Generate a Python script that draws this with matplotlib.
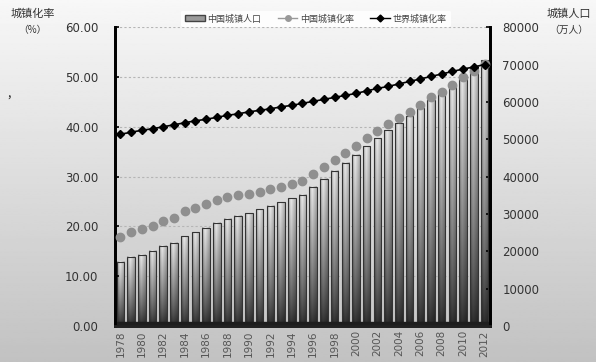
import matplotlib.pyplot as plt
import numpy as np
from matplotlib.patches import Patch
from matplotlib.lines import Line2D

plt.rcParams['font.family'] = ['Noto Sans CJK SC', 'DejaVu Sans']

years = list(range(1978, 2013))
urban_pop = [17245, 18495, 19140, 20171, 21480, 22274, 24017, 25094, 26366, 27674,
             28661, 29540, 30195, 31203, 32175, 33173, 34169, 35174, 37304, 39449,
             41608, 43748, 45906, 48064, 50212, 52376, 54283, 56212, 58288, 60633,
             62403, 64512, 66978, 69079, 71182]
china_rate = [17.92, 18.96, 19.39, 20.16, 21.13, 21.62, 23.01, 23.71, 24.52, 25.32,
              25.81, 26.21, 26.41, 26.94, 27.46, 27.99, 28.51, 29.04, 30.48, 31.91,
              33.35, 34.78, 36.22, 37.66, 39.09, 40.53, 41.76, 42.99, 44.34, 45.89,
              46.99, 48.34, 49.95, 51.27, 52.57]
world_rate = [38.5, 38.9, 39.3, 39.6, 40.0, 40.4, 40.8, 41.2, 41.5, 41.9,
              42.3, 42.6, 43.0, 43.3, 43.6, 44.0, 44.3, 44.7, 45.1, 45.5,
              45.9, 46.3, 46.7, 47.2, 47.7, 48.1, 48.6, 49.1, 49.6, 50.1,
              50.6, 51.1, 51.6, 52.0, 52.5]
left_ticks = [0, 10, 20, 30, 40, 50, 60]
right_ticks = [0, 10000, 20000, 30000, 40000, 50000, 60000, 70000, 80000]

fig = plt.figure(figsize=(5.96, 3.62), dpi=100)

# grey background fading from white at the top
bg = fig.add_axes([0, 0, 1, 1], zorder=-10)
grad = np.linspace(0.97, 0.76, 200).reshape(-1, 1)
bg.imshow(grad, cmap='gray', vmin=0, vmax=1, aspect='auto', extent=[0, 1, 0, 1])
bg.set_axis_off()

ax = fig.add_axes([0.193, 0.0994, 0.629, 0.8256])
ax2 = ax.twinx()
ax.set_zorder(2)
ax2.set_zorder(1)
ax.patch.set_visible(False)
ax2.patch.set_visible(False)

x = np.arange(len(years))
w = 0.7

ax.set_ylim(0, 60)
ax2.set_ylim(0, 80000)

# dashed grid at the left-axis ticks, kept behind the bars
scale = 80000 / 60
for t in left_ticks[1:]:
    ax2.axhline(t * scale, color='#b5b5b5', linestyle=(0, (2, 2)), linewidth=0.8, zorder=0)

# bars on the right axis, shaded with a vertical/horizontal gradient
vert = (np.linspace(0, 1, 100) ** 0.8 * 0.7 + 0.15).reshape(-1, 1)
horiz = np.concatenate([np.linspace(0.75, 1.08, 12), np.linspace(1.08, 0.8, 18)]).reshape(1, -1)
shade = np.clip(vert * horiz, 0, 1)
for xi, v in zip(x, urban_pop):
    ax2.imshow(shade[::-1], cmap='gray', vmin=0, vmax=1, aspect='auto',
               extent=[xi - w / 2, xi + w / 2, 0, v], zorder=1, interpolation='bilinear')
ax2.bar(x, urban_pop, width=w, facecolor='none', edgecolor='#333333', linewidth=0.8, zorder=2)
ax2.axhspan(0, 1200, color='#1e1e1e', zorder=3)

ax.plot(x, china_rate, linewidth=0, marker='o', markersize=6,
        markerfacecolor='#8f8f8f', markeredgecolor='#8f8f8f', zorder=4)
ax.plot(x, world_rate, color='black', linewidth=1.2, marker='D', markersize=4.3, zorder=5)

ax.set_xlim(-0.5, len(years) - 0.5)
ax2.set_xlim(-0.5, len(years) - 0.5)
ax.set_ylim(0, 60)
ax2.set_ylim(0, 80000)

ax.set_yticks(left_ticks)
ax.set_yticklabels(['%.2f' % t for t in left_ticks], fontsize=8.5, color='#333333', family='DejaVu Sans')
ax2.set_yticks(right_ticks)
ax2.set_yticklabels([str(t) for t in right_ticks], fontsize=8.5, color='#333333', family='DejaVu Sans')

ax.set_xticks(x[::2])
ax.set_xticklabels([str(y) for y in years[::2]], rotation=90, fontsize=7.5,
                   color='#555555', family='DejaVu Sans')
ax.tick_params(axis='x', length=0, pad=3)
ax.tick_params(axis='y', length=3, width=1.2, direction='in', pad=12)
ax2.tick_params(axis='y', length=3, width=1.2, direction='in', pad=9)
ax2.tick_params(axis='x', length=0)

for a in (ax, ax2):
    a.spines['top'].set_visible(False)
    a.spines['left'].set_linewidth(2)
    a.spines['right'].set_linewidth(2)
    a.spines['bottom'].set_linewidth(2)
    a.spines['bottom'].set_color('#222222')

handles = [Patch(facecolor='#9a9a9a', edgecolor='#444444'),
           Line2D([], [], color='#999999', marker='o', markersize=4, linewidth=1),
           Line2D([], [], color='black', marker='D', markersize=3.5, linewidth=1)]
fig.legend(handles, ['中国城镇人口', '中国城镇化率', '世界城镇化率'], loc='center',
           bbox_to_anchor=(0.53, 0.948), ncol=3, fontsize=6.5, frameon=True,
           facecolor='white', edgecolor='none', framealpha=0.85, handlelength=2.2,
           columnspacing=1.8, handletextpad=0.3, labelcolor='#444444')

fig.text(0.055, 0.962, '城镇化率', ha='center', va='center', fontsize=8, color='#333333')
fig.text(0.055, 0.918, '（%）', ha='center', va='center', fontsize=7, color='#333333')
fig.text(0.955, 0.962, '城镇人口', ha='center', va='center', fontsize=8, color='#333333')
fig.text(0.955, 0.918, '（万人）', ha='center', va='center', fontsize=7, color='#333333')
fig.text(0.012, 0.73, ',', fontsize=9, color='#222222')

fig.savefig('out.png', dpi=100)
